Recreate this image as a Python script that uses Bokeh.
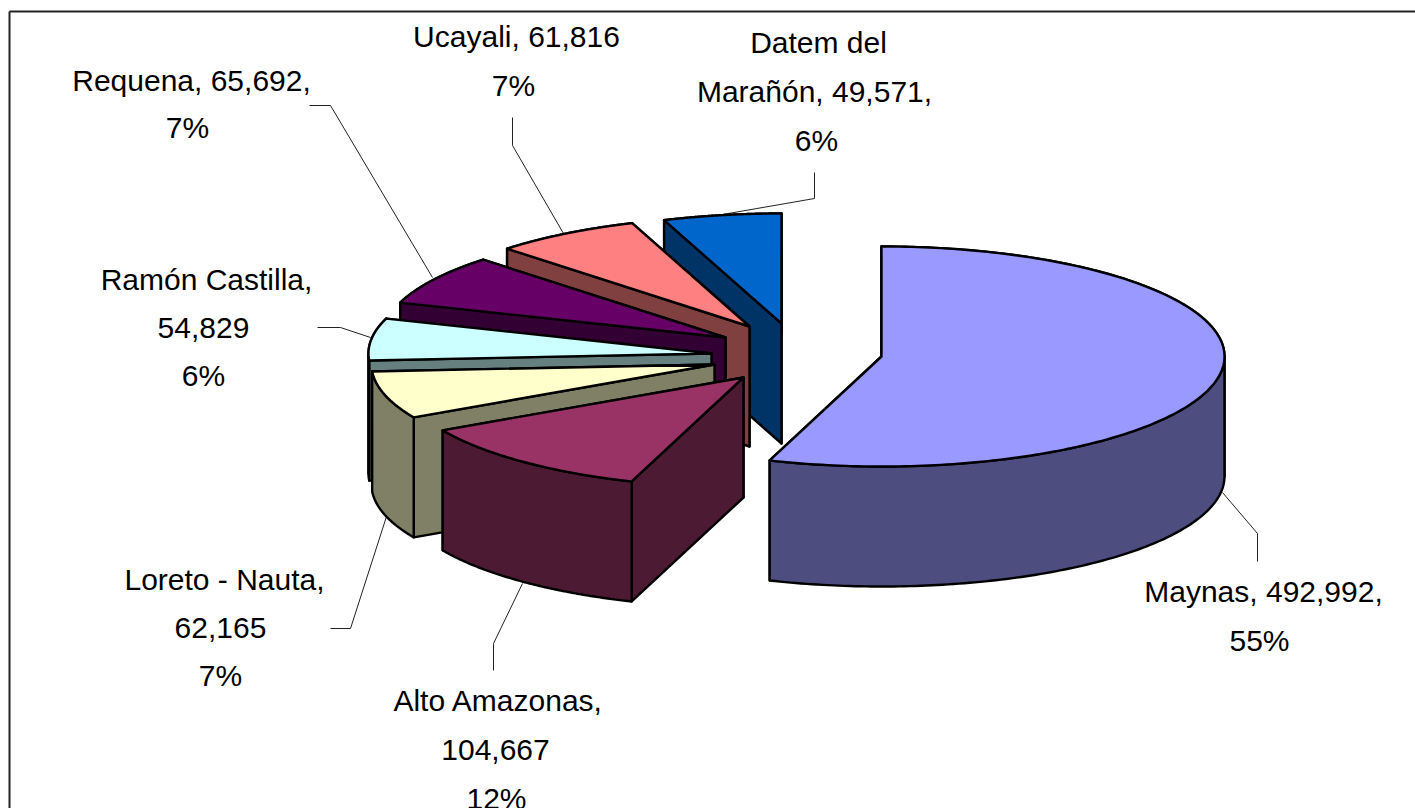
import numpy as np
from bokeh.embed import file_html
from bokeh.models import Range1d
from bokeh.plotting import figure
from bokeh.resources import INLINE
from bokeh.core.properties import value

# ---- data -------------------------------------------------------------
categories = ["Maynas", "Alto Amazonas", "Loreto - Nauta", "Ramón Castilla",
              "Requena", "Ucayali", "Datem del Marañón"]
population = [492992, 104667, 62165, 54829, 65692, 61816, 49571]
top_colors = ["#9999FF", "#993366", "#FFFFCC", "#CCFFFF", "#660066", "#FF8080", "#0066CC"]
side_colors = ["#4D4D80", "#4D1A33", "#808066", "#668080", "#330033", "#804040", "#003366"]
label_lines = [
    ["Maynas, 492,992,", "55%"],
    ["Alto Amazonas,", "104,667", "12%"],
    ["Loreto - Nauta,", "62,165", "7%"],
    ["Ramón Castilla,", "54,829", "6%"],
    ["Requena, 65,692,", "7%"],
    ["Ucayali, 61,816", "7%"],
    ["Datem del", "Marañón, 49,571,", "6%"],
]

# ---- layout (picture pixels) --------------------------------------------
RX, RY, DEPTH = 343, 110, 120
slice_tips = [(881, 356), (743, 377), (714, 364), (711, 353), (725, 337), (749, 326), (781, 323)]
label_anchor = [
    [(1263, 591), (1259, 640)],
    [(498, 700), (495, 749), (496, 798)],
    [(224, 579), (220, 627), (220, 675)],
    [(206, 279), (203, 327), (203, 375)],
    [(191, 80), (187, 127)],
    [(516, 36), (513, 85)],
    [(818, 42), (814, 91), (816, 140)],
]
leaders = [
    [(1257, 561), (1257, 533), (1222, 492)],
    [(493, 670), (493, 643), (522, 583)],
    [(330, 628), (350, 628), (386, 516)],
    [(317, 327), (340, 327), (370, 337)],
    [(309, 105), (330, 105), (432, 277)],
    [(512, 117), (512, 145), (563, 233)],
    [(814, 172), (814, 198), (722, 214)],
]

# ---- angles from the values ---------------------------------------------
vals = np.array(population, dtype=float)
edges = np.concatenate([[0.0], np.cumsum(vals) / vals.sum() * 2 * np.pi])


def rim(tip, a):
    return tip[0] + RX * np.sin(a), tip[1] - RY * np.cos(a)


p = figure(width=1415, height=808, output_backend="svg", toolbar_location=None,
           x_range=Range1d(0, 1415), y_range=Range1d(808, 0),
           min_border=0, outline_line_color=None, background_fill_color="white",
           border_fill_color="white")
p.xaxis.visible = False
p.yaxis.visible = False
p.grid.visible = False

# chart frame (only its left and top edges fall inside the page)
p.line([9, 9], [808, 11], line_color="#222222", line_width=2)
p.line([9, 1415], [11, 11], line_color="#222222", line_width=2)

for l in leaders:
    p.line([q[0] for q in l], [q[1] for q in l], line_color="#222222", line_width=1)


def face(xs, ys, c):
    p.patch(list(map(float, xs)), list(map(float, ys)), fill_color=c, line_color="black",
            line_width=2.4, line_join="round")


def wall(tip, b0, b1, c):
    ax, ay = rim(tip, np.linspace(b0, b1, 120))
    face(np.r_[ax, ax[::-1]], np.r_[ay, ay[::-1] + DEPTH], c)


# painted from the last slice (at the back) round to the first
for i in reversed(range(len(population))):
    tip = slice_tips[i]
    a0, a1 = edges[i], edges[i + 1]
    side, top = side_colors[i], top_colors[i]
    x0, y0 = rim(tip, a0)
    x1, y1 = rim(tip, a1)
    cuts = [a0] + [c for c in (np.pi / 2, 3 * np.pi / 2) if a0 < c < a1] + [a1]
    spans = list(zip(cuts[:-1], cuts[1:]))
    front = [s for s in spans if np.pi / 2 <= (s[0] + s[1]) / 2 <= 3 * np.pi / 2]
    back = [s for s in spans if s not in front]
    for b0, b1 in back:
        wall(tip, b0, b1, side)
    # hidden radial face, then visible radial face
    face([tip[0], x1, x1, tip[0]], [tip[1], y1, y1 + DEPTH, tip[1] + DEPTH], side)
    face([tip[0], x0, x0, tip[0]], [tip[1], y0, y0 + DEPTH, tip[1] + DEPTH], side)
    for b0, b1 in front:
        wall(tip, b0, b1, side)
    ax, ay = rim(tip, np.linspace(a0, a1, 200))
    face(np.r_[tip[0], ax], np.r_[tip[1], ay], top)

tx, ty, tt = [], [], []
for lines, anchors in zip(label_lines, label_anchor):
    for s, (x, y) in zip(lines, anchors):
        tx.append(x); ty.append(y); tt.append(s)
p.text(tx, ty, text=tt, text_font=value("Liberation Sans"), text_font_size="30px",
       text_align="center", text_baseline="alphabetic", text_color="black")

open("out.html", "w").write(file_html(p, INLINE))
